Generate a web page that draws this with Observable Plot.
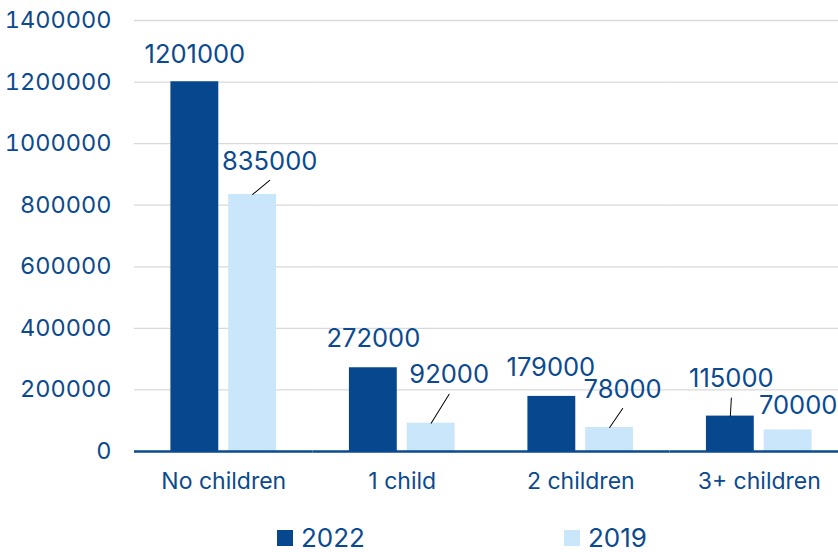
<!DOCTYPE html>
<html><head><meta charset="utf-8">
<script src="https://cdn.jsdelivr.net/npm/d3@7"></script>
<script src="https://cdn.jsdelivr.net/npm/@observablehq/plot@0.6"></script>
<style>
body{margin:0;background:#fff;overflow:hidden;font-family:Inter,sans-serif}
#chart svg{overflow:hidden;display:block}
.legend{position:relative;width:838px;height:52px}
.legend .item{position:absolute;top:24px;display:flex;align-items:center;gap:8px;font-size:26px;line-height:28px;color:#0c4a8f}
.legend .sw{width:16px;height:16px;display:inline-block}
</style></head><body><div id="chart"></div><script>
const categories = ["No children", "1 child", "2 children", "3+ children"];
const years = ["2022", "2019"];
const values2022 = [1201000, 272000, 179000, 115000];
const values2019 = [835000, 92000, 78000, 70000];
const yTicks = [0, 200000, 400000, 600000, 800000, 1000000, 1200000, 1400000];

// layout of the value labels (pixel nudges from the bar top) and whether a leader line is drawn
const labelNudge2022 = [[0, -27, false], [0, -29, false], [-1, -29, false], [1, -37, true]];
const labelNudge2019 = [[17, -33, true], [18, -48, true], [13, -38, true], [10, -24, false]];

const textColor = "#0c4a8f";
const colors = ["#06478e", "#c9e6fb"];

const rows = [];
categories.forEach((c, i) => {
  rows.push({category: c, year: years[0], value: values2022[i], nudge: labelNudge2022[i]});
  rows.push({category: c, year: years[1], value: values2019[i], nudge: labelNudge2019[i]});
});

const leaderShape = {draw(context, l) { context.moveTo(0, 0); context.lineTo(0, -l); }};
const leaderGap = 19;

const labelMarks = rows.map(r => Plot.text([r], {
  fx: "category", x: "year", y: "value", text: d => String(d.value),
  dx: r.nudge[0], dy: r.nudge[1], fontSize: 25.5, fill: textColor
}));
const leaderMarks = rows.filter(r => r.nudge[2]).map(r => {
  const ex = r.nudge[0], ey = r.nudge[1] + leaderGap;
  return Plot.vector([r], {
    fx: "category", x: "year", y: "value", anchor: "start",
    length: Math.hypot(ex, ey), rotate: Math.atan2(ex, -ey) * 180 / Math.PI,
    shape: leaderShape, stroke: "#000", strokeWidth: 1
  });
});

const plot = Plot.plot({
  width: 838, height: 500,
  marginLeft: 134, marginRight: 0, marginTop: 20, marginBottom: 49,
  style: {fontFamily: "Inter, sans-serif", color: textColor, background: "#fff", overflow: "hidden"},
  fx: {domain: categories, range: [134, 848], padding: 0, round: false, label: null},
  x: {domain: years, paddingInner: 0.172, paddingOuter: 0.63, round: false, axis: null},
  y: {domain: [0, 1400000], label: null},
  color: {domain: years, range: colors},
  marks: [
    Plot.ruleY(yTicks.filter(d => d > 0), {stroke: "#d9d9d9", strokeWidth: 1.3}),
    Plot.barY(rows, {fx: "category", x: "year", y: "value", fill: "year"}),
    Plot.ruleY([0], {stroke: "#0a4a90", strokeWidth: 2.5}),
    ...labelMarks,
    ...leaderMarks,
    Plot.axisY({ticks: yTicks, tickFormat: d => String(d), tickSize: 0, tickPadding: 23, fontSize: 23.5, label: null}),
    Plot.axisFx({anchor: "bottom", tickSize: 0, tickPadding: 21, fontSize: 23, label: null})
  ]
});
document.getElementById("chart").appendChild(plot);

const legend = document.createElement("div");
legend.className = "legend";
const legendLeft = [277, 564];
years.forEach((y, i) => {
  const item = document.createElement("div");
  item.className = "item";
  item.style.left = legendLeft[i] + "px";
  const sw = document.createElement("span");
  sw.className = "sw";
  sw.style.background = colors[i];
  const t = document.createElement("span");
  t.textContent = y;
  item.appendChild(sw); item.appendChild(t);
  legend.appendChild(item);
});
document.getElementById("chart").appendChild(legend);
</script></body></html>
